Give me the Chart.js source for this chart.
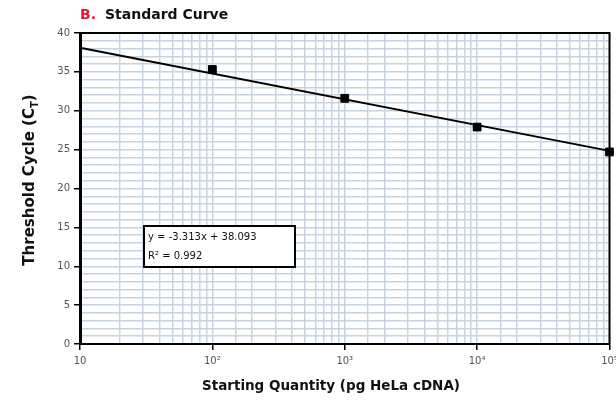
<!DOCTYPE html>
<html>
<head>
<meta charset="utf-8">
<style>
  html, body { margin: 0; padding: 0; background: #fff; }
  #wrap { position: relative; width: 616px; height: 401px; }
</style>
<script src="https://cdn.jsdelivr.net/npm/chart.js@4/dist/chart.umd.min.js"></script>
</head>
<body>
<div id="wrap"><canvas id="c" width="616" height="401"></canvas></div>
<script>
// Standard curve: Ct versus starting quantity of HeLa cDNA (pg)
const quantities = [100, 1000, 10000, 100000];
const ctValues = [35.3, 31.6, 27.9, 24.7];

// Fitted line end points
const fitQuantities = [10, 100000];
const fitCt = [38.093, 24.841];

const decadeLabels = { 10: '10', 100: '10\u00b2', 1000: '10\u00b3', 10000: '10\u2074', 100000: '10\u2075' };
const fitText = ['y = -3.313x + 38.093', 'R\u00b2 = 0.992'];

const FONT = '"DejaVu Sans", sans-serif';
const gridColor = '#c6d4e1';

const isDecade = v => Object.prototype.hasOwnProperty.call(decadeLabels, Math.round(v)) && Math.abs(v - Math.round(v)) < 1e-6;

const noPadding = () => ({ left: 0, top: 0, right: 0, bottom: 0 });

const decorations = {
  id: 'decorations',
  afterDatasetsDraw(chart) {
    const { ctx, chartArea: a } = chart;
    ctx.save();
    // top and right frame
    ctx.strokeStyle = '#000';
    ctx.lineWidth = 2;
    ctx.beginPath();
    ctx.moveTo(a.left, a.top);
    ctx.lineTo(a.right, a.top);
    ctx.lineTo(a.right, a.bottom);
    ctx.stroke();

    // equation box
    const bx = 144, by = 226, bw = 151, bh = 41;
    ctx.fillStyle = '#fff';
    ctx.fillRect(bx, by, bw, bh);
    ctx.lineWidth = 2;
    ctx.strokeRect(bx, by, bw, bh);
    ctx.fillStyle = '#111';
    ctx.font = '10px ' + FONT;
    ctx.textBaseline = 'middle';
    ctx.textAlign = 'left';
    ctx.fillText(fitText[0], bx + 4, by + 11);
    ctx.fillText(fitText[1], bx + 4, by + 30);
    ctx.restore();
  },
  afterDraw(chart) {
    const { ctx } = chart;
    ctx.save();
    // heading
    ctx.textBaseline = 'middle';
    ctx.textAlign = 'left';
    ctx.font = 'bold 14px ' + FONT;
    ctx.fillStyle = '#e3173c';
    ctx.fillText('B.', 80, 15);
    ctx.fillStyle = '#111';
    ctx.fillText('Standard Curve', 105, 15);

    // x axis title
    ctx.textAlign = 'center';
    ctx.font = 'bold 13.5px ' + FONT;
    ctx.fillText('Starting Quantity (pg HeLa cDNA)', 331, 386);

    // y axis title with subscript
    ctx.translate(30, 180);
    ctx.rotate(-Math.PI / 2);
    const main = 'Threshold Cycle (C';
    const sub = 'T';
    const tail = ')';
    ctx.font = 'bold 15px ' + FONT;
    const wMain = ctx.measureText(main).width;
    const wTail = ctx.measureText(tail).width;
    ctx.font = 'bold 10px ' + FONT;
    const wSub = ctx.measureText(sub).width;
    const total = wMain + wSub + wTail;
    const x0 = -total / 2;
    ctx.textAlign = 'left';
    ctx.font = 'bold 15px ' + FONT;
    ctx.fillText(main, x0, 0);
    ctx.font = 'bold 10px ' + FONT;
    ctx.fillText(sub, x0 + wMain, 5);
    ctx.font = 'bold 15px ' + FONT;
    ctx.fillText(tail, x0 + wMain + wSub, 0);
    ctx.restore();
  }
};

new Chart(document.getElementById('c'), {
  type: 'scatter',
  data: {
    datasets: [
      {
        label: 'Fit',
        type: 'line',
        data: fitQuantities.map((q, i) => ({ x: q, y: fitCt[i] })),
        borderColor: '#000',
        borderWidth: 2,
        pointRadius: 0,
        fill: false,
        clip: false,
        order: 2
      },
      {
        label: 'Standards',
        data: quantities.map((q, i) => ({ x: q, y: ctValues[i] })),
        pointStyle: 'rect',
        pointRadius: 5.5,
        backgroundColor: '#000',
        borderColor: '#000',
        clip: false,
        order: 1
      }
    ]
  },
  options: {
    responsive: false,
    animation: false,
    devicePixelRatio: 1,
    layout: { padding: { top: 33, right: 3, left: 0, bottom: 0 } },
    plugins: { legend: { display: false }, tooltip: { enabled: false } },
    scales: {
      x: {
        type: 'logarithmic',
        min: 10,
        max: 100000,
        afterFit(s) {
          s.height = 57;
          s.paddingLeft = 0;
          s.paddingRight = 0;
          s.getPadding = noPadding;
        },
        border: { display: true, color: '#000', width: 2 },
        grid: {
          color: gridColor,
          lineWidth: 1.5,
          drawTicks: true,
          tickLength: 6,
          tickColor: c => (c.tick && isDecade(c.tick.value)) ? '#000' : 'rgba(0,0,0,0)',
          tickWidth: 1.5
        },
        ticks: {
          autoSkip: false,
          maxRotation: 0,
          padding: 5,
          color: '#555',
          font: { family: FONT, size: 10 },
          callback: v => isDecade(v) ? decadeLabels[Math.round(v)] : ''
        }
      },
      y: {
        min: 0,
        max: 40,
        afterFit(s) {
          s.width = 80;
          s.getPadding = noPadding;
        },
        border: { display: true, color: '#000', width: 3 },
        grid: {
          color: gridColor,
          lineWidth: 1.5,
          drawTicks: true,
          tickLength: 6,
          tickColor: c => (c.tick && c.tick.value % 5 === 0) ? '#000' : 'rgba(0,0,0,0)',
          tickWidth: 1.5
        },
        ticks: {
          stepSize: 1,
          autoSkip: false,
          padding: 4,
          color: '#555',
          font: { family: FONT, size: 10 },
          callback: v => (v % 5 === 0) ? String(v) : ''
        }
      }
    }
  },
  plugins: [decorations]
});
</script>
</body>
</html>
